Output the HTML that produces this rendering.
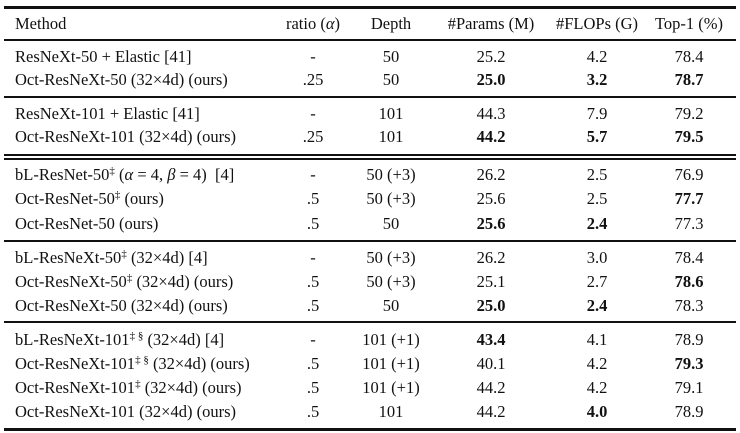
<!DOCTYPE html>
<html><head><meta charset="utf-8"><style>
body{margin:0;background:#fff;}
#t{position:relative;width:740px;height:433px;font-family:"Liberation Serif",serif;font-size:16.5px;color:#111;overflow:hidden}
.c{position:absolute;white-space:nowrap;line-height:18px}
.r{position:absolute;left:4px;width:732px;background:#111}
sup{font-size:11px;vertical-align:6px;line-height:0}
b{font-weight:bold}
</style></head><body>
<div id="t"></div>
<script>
const lines=[[6,2.5],[39,2],[96,2],[154,2],[158,2],[240,2],[321,2],[428,2.5]];
const rowsY=[57,80,114,137,175,199,224,258,282,306,340,364,388,412];
const methods=["ResNeXt-50 + Elastic [41]","Oct-ResNeXt-50 (32×4d) (ours)","ResNeXt-101 + Elastic [41]","Oct-ResNeXt-101 (32×4d) (ours)",
"bL-ResNet-50<sup>‡</sup> (<i>α</i> = 4, <i>β</i> = 4)&nbsp; [4]","Oct-ResNet-50<sup>‡</sup> (ours)","Oct-ResNet-50 (ours)",
"bL-ResNeXt-50<sup>‡</sup> (32×4d) [4]","Oct-ResNeXt-50<sup>‡</sup> (32×4d) (ours)","Oct-ResNeXt-50 (32×4d) (ours)",
"bL-ResNeXt-101<sup>‡ §</sup> (32×4d) [4]","Oct-ResNeXt-101<sup>‡ §</sup> (32×4d) (ours)","Oct-ResNeXt-101<sup>‡</sup> (32×4d) (ours)","Oct-ResNeXt-101 (32×4d) (ours)"];
const ratio=["-",".25","-",".25","-",".5",".5","-",".5",".5","-",".5",".5",".5"];
const depth=["50","50","101","101","50 (+3)","50 (+3)","50","50 (+3)","50 (+3)","50","101 (+1)","101 (+1)","101 (+1)","101"];
const params=["25.2","<b>25.0</b>","44.3","<b>44.2</b>","26.2","25.6","<b>25.6</b>","26.2","25.1","<b>25.0</b>","<b>43.4</b>","40.1","44.2","44.2"];
const flops=["4.2","<b>3.2</b>","7.9","<b>5.7</b>","2.5","2.5","<b>2.4</b>","3.0","2.7","<b>2.4</b>","4.1","4.2","4.2","<b>4.0</b>"];
const top1=["78.4","<b>78.7</b>","79.2","<b>79.5</b>","76.9","<b>77.7</b>","77.3","78.4","<b>78.6</b>","78.3","78.9","<b>79.3</b>","79.1","78.9"];
const headers=["Method","ratio (<i>α</i>)","Depth","#Params (M)","#FLOPs (G)","Top-1 (%)"];
const colX=[15,313,391,491,597,689];
const T=document.getElementById('t');
for(const [y,h] of lines){const d=document.createElement('div');d.className='r';d.style.top=y+'px';d.style.height=h+'px';


T.appendChild(d);}
function cell(html,ci,y,name){const d=document.createElement('div');d.className='c';d.innerHTML=html;d.style.top=(y-9)+'px';
if(ci===0){d.style.left=colX[0]+'px';}else{d.style.left=colX[ci]+'px';d.style.transform='translateX(-50%)';}


T.appendChild(d);}
headers.forEach((h,i)=>cell(h,i,24,'header-cell'));
const cols=[methods,ratio,depth,params,flops,top1];
rowsY.forEach((y,r)=>cols.forEach((c,ci)=>cell(c[r],ci,y,'table-cell')));
</script>
</body></html>
